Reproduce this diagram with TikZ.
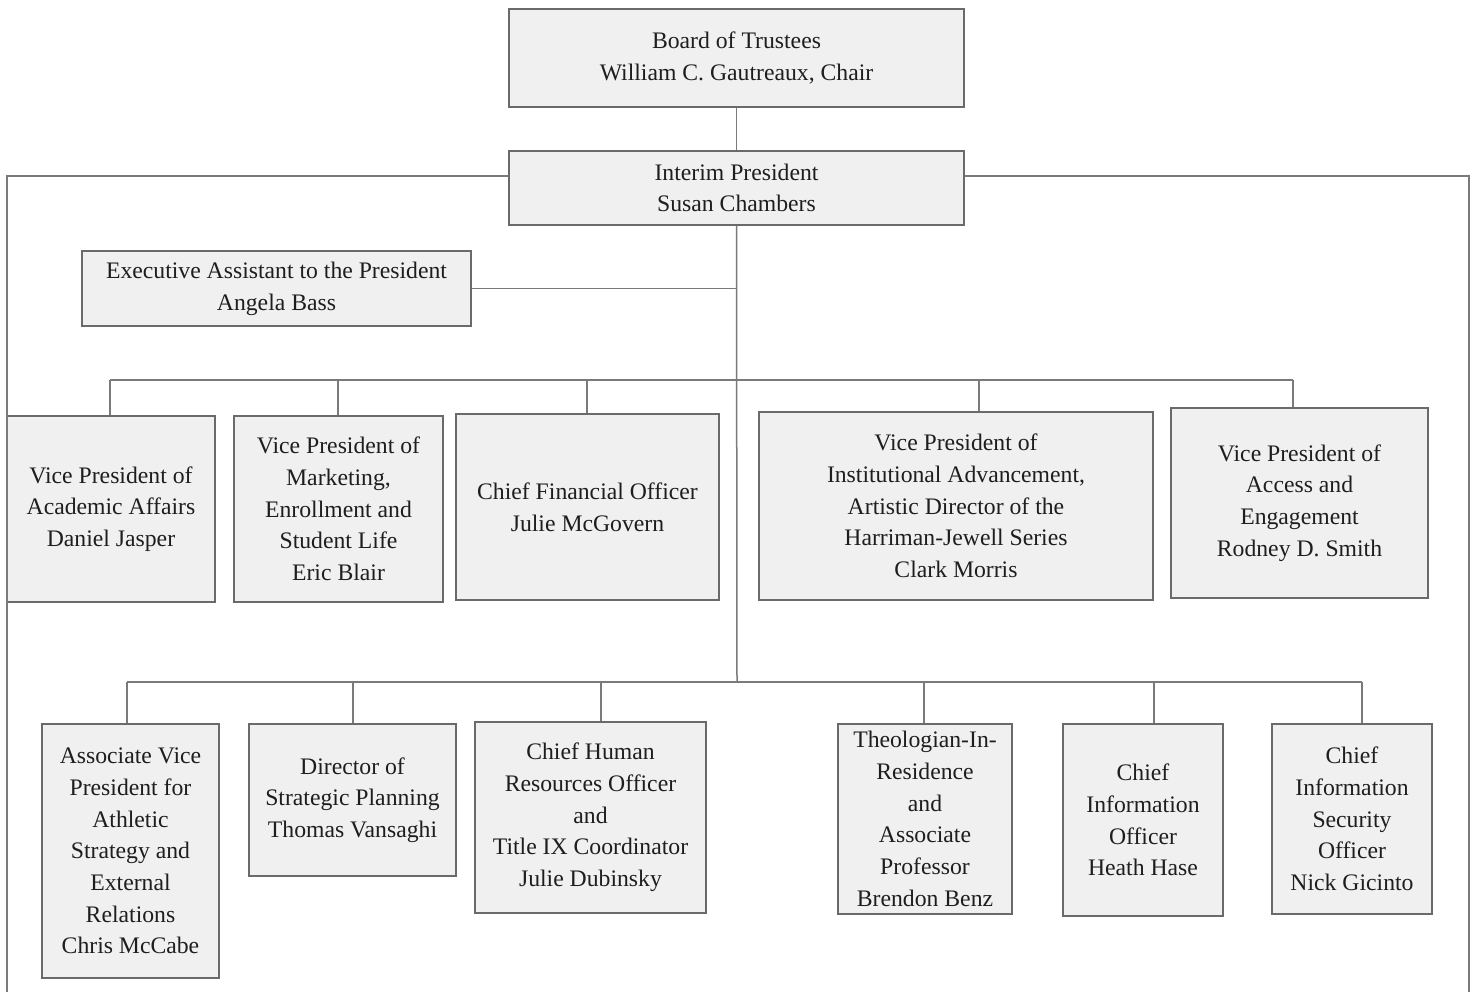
\documentclass[tikz,border=0pt]{standalone}
\usepackage{fontspec}
\setmainfont{Liberation Serif}
\definecolor{boxfill}{HTML}{F0F0F0}
\definecolor{boxline}{HTML}{6A6A6A}
\definecolor{conline}{HTML}{7A7A7A}
\definecolor{txt}{HTML}{1E1E1E}
\tikzset{
  orgbox/.style={draw=boxline, fill=boxfill, line width=1.8pt, rectangle, inner sep=0pt,
    align=center, text=txt, font=\fontsize{23.7}{31.7}\selectfont},
  conn/.style={draw=conline, line width=1.5pt}
}
\begin{document}
\begin{tikzpicture}[x=1pt,y=-1pt]
\useasboundingbox (0,0) rectangle (1476,992);
% helper coordinates
\coordinate (fl1) at (7,176);
\coordinate (fl2) at (7,995);
\coordinate (fr1) at (1469,176);
\coordinate (fr2) at (1469,995);
\coordinate (d1) at (110,380);
\coordinate (d2) at (338,380);
\coordinate (d3) at (587,380);
\coordinate (d4) at (979,380);
\coordinate (d5) at (1293,380);
\coordinate (e1) at (127,682);
\coordinate (e2) at (353,682);
\coordinate (e3) at (601,682);
\coordinate (e4) at (924,682);
\coordinate (e5) at (1154,682);
\coordinate (e6) at (1362,682);
\coordinate (trunk) at (737,682);

% connectors (drawn first, under the boxes)
\draw[conn] (d1) -- (d5);
\draw[conn] (e1) -- (e6);

% boxes
\node[orgbox, minimum width=455, minimum height=98] (board) at (736.5,58) {Board of Trustees\\William C. Gautreaux, Chair};
\node[orgbox, minimum width=455, minimum height=74] (pres) at (736.5,188) {Interim President\\Susan Chambers};
\node[orgbox, minimum width=389, minimum height=75] (ea) at (276.5,288.5) {Executive Assistant to the President\\Angela Bass};

\node[orgbox, minimum width=208, minimum height=186] (vp1) at (111,509) {Vice President of\\Academic Affairs\\Daniel Jasper};
\node[orgbox, minimum width=209, minimum height=186] (vp2) at (338.5,509) {Vice President of\\Marketing,\\Enrollment and\\Student Life\\Eric Blair};
\node[orgbox, minimum width=263, minimum height=186] (cfo) at (587.5,507) {Chief Financial Officer\\Julie McGovern};
\node[orgbox, minimum width=394, minimum height=188] (vp4) at (956,506) {Vice President of\\Institutional Advancement,\\Artistic Director of the\\Harriman-Jewell Series\\Clark Morris};
\node[orgbox, minimum width=257, minimum height=190] (vp5) at (1299.5,503) {Vice President of\\Access and\\Engagement\\Rodney D. Smith};

\node[orgbox, minimum width=177, minimum height=254] (avp) at (130.5,851) {Associate Vice\\President for\\Athletic\\Strategy and\\External\\Relations\\Chris McCabe};
\node[orgbox, minimum width=207, minimum height=152] (dir) at (352.5,800) {Director of\\Strategic Planning\\Thomas Vansaghi};
\node[orgbox, minimum width=231, minimum height=191] (chro) at (590.5,817.5) {Chief Human\\Resources Officer\\and\\Title IX Coordinator\\Julie Dubinsky};
\node[orgbox, minimum width=174, minimum height=190] (theo) at (925,819) {Theologian-In-\\Residence\\and\\Associate\\Professor\\Brendon Benz};
\node[orgbox, minimum width=160, minimum height=192] (cio) at (1143,820) {Chief\\Information\\Officer\\Heath Hase};
\node[orgbox, minimum width=160, minimum height=190] (ciso) at (1352,819) {Chief\\Information\\Security\\Officer\\Nick Gicinto};

% hierarchy connectors
\draw[conn] (board.south) -- (pres.north);
\draw[conn] (pres.south) -- (trunk);
\draw[conn] (ea.east) -- (ea.east -| pres.south);
\draw[conn] (pres.west |- fl1) -- (fl1) -- (fl2);
\draw[conn] (pres.east |- fr1) -- (fr1) -- (fr2);

\draw[conn] (d1) -- (d1 |- vp1.north);
\draw[conn] (d2) -- (d2 |- vp2.north);
\draw[conn] (d3) -- (d3 |- cfo.north);
\draw[conn] (d4) -- (d4 |- vp4.north);
\draw[conn] (d5) -- (d5 |- vp5.north);

\draw[conn] (e1) -- (e1 |- avp.north);
\draw[conn] (e2) -- (e2 |- dir.north);
\draw[conn] (e3) -- (e3 |- chro.north);
\draw[conn] (e4) -- (e4 |- theo.north);
\draw[conn] (e5) -- (e5 |- cio.north);
\draw[conn] (e6) -- (e6 |- ciso.north);
\end{tikzpicture}
\end{document}
